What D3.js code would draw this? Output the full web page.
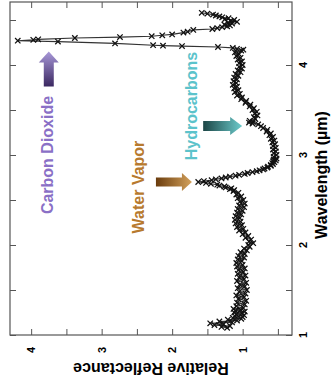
<!DOCTYPE html>
<html>
<head>
<meta charset="utf-8">
<script src="https://cdn.jsdelivr.net/npm/d3@7"></script>
<style>
  html, body { margin: 0; padding: 0; background: #fff; }
  svg { display: block; font-family: "Liberation Sans", Arial, sans-serif; }
</style>
</head>
<body>
<div id="chart"></div>
<script>
// spectrum samples (wavelength in µm)
const wavelength = [
  1.08, 1.09, 1.10, 1.11, 1.12, 1.13, 1.14, 1.15, 1.16, 1.17, 1.18, 1.19, 1.20, 1.21, 1.22, 1.23,
  1.24, 1.25, 1.26, 1.27, 1.28, 1.29, 1.30,
  1.32, 1.34, 1.36, 1.38, 1.40, 1.42, 1.44, 1.46, 1.48, 1.50, 1.52, 1.54, 1.56, 1.58, 1.60, 1.62,
  1.64, 1.66, 1.68, 1.70, 1.72, 1.74, 1.76, 1.78, 1.80, 1.82, 1.84, 1.86, 1.88, 1.90, 1.92, 1.94,
  1.96, 1.98, 2.00, 2.02, 2.04, 2.06, 2.08, 2.10, 2.12, 2.14, 2.16, 2.18, 2.20, 2.22, 2.24, 2.26,
  2.28, 2.30, 2.32, 2.34, 2.36, 2.38, 2.40, 2.42, 2.44, 2.46, 2.48, 2.50, 2.52, 2.54, 2.56, 2.58,
  2.60,
  2.61, 2.62, 2.63, 2.64, 2.65, 2.66, 2.67, 2.68, 2.69, 2.70, 2.71, 2.72, 2.73, 2.74, 2.75, 2.76,
  2.77, 2.78, 2.79, 2.80, 2.81, 2.82, 2.83, 2.84, 2.85, 2.86, 2.87, 2.88, 2.89, 2.90, 2.91, 2.92,
  2.93, 2.94, 2.95, 2.96,
  2.98, 3.00, 3.02, 3.04, 3.06, 3.08, 3.10, 3.12, 3.14, 3.16, 3.18, 3.20, 3.22, 3.24, 3.26, 3.28,
  3.30, 3.32, 3.34, 3.35, 3.36, 3.37, 3.38, 3.40, 3.42, 3.44, 3.46, 3.48, 3.50, 3.52, 3.54, 3.56,
  3.58, 3.60, 3.62, 3.64, 3.66, 3.68, 3.70, 3.72, 3.74, 3.76, 3.78, 3.80, 3.82, 3.84, 3.86, 3.88,
  3.90, 3.92, 3.94, 3.96, 3.98, 4.00, 4.02, 4.04, 4.06, 4.08, 4.10, 4.12, 4.14, 4.16,
  4.17, 4.18, 4.19, 4.20, 4.21, 4.215, 4.22, 4.24, 4.26, 4.27, 4.28, 4.285, 4.30, 4.31, 4.32, 4.33,
  4.34, 4.36, 4.37, 4.39, 4.40, 4.41, 4.42, 4.43, 4.44, 4.45, 4.46, 4.47, 4.48, 4.49, 4.50, 4.51,
  4.52, 4.53, 4.54, 4.55, 4.56, 4.57, 4.58
];
const reflectance = [
  1.22, 1.30, 1.18, 1.40, 1.27, 1.46, 1.15, 1.33, 1.08, 1.21, 1.02, 1.14, 1.00, 1.11, 0.98, 1.09,
  1.01, 1.12, 0.97, 1.10, 1.03, 1.13, 0.99,
  1.09, 0.97, 1.08, 0.95, 1.06, 0.98, 1.09, 0.96, 1.05, 0.94, 1.07, 0.97, 1.04, 0.95, 1.08, 0.98,
  1.05, 0.96, 1.07, 0.99, 1.06, 0.97, 1.08, 1.00, 1.09, 1.01, 1.07, 0.98, 1.06, 0.97, 1.03, 0.94,
  0.98, 0.90, 0.92, 0.85, 0.91, 0.88, 0.96, 0.92, 1.00, 0.96, 1.05, 0.99, 1.08, 1.01, 1.10, 1.03,
  1.11, 1.04, 1.10, 1.02, 1.08, 1.00, 1.07, 0.98, 1.05, 0.97, 1.04, 0.99, 1.07, 1.02, 1.09, 1.06,
  1.13,
  1.12, 1.18, 1.16, 1.24, 1.26, 1.33, 1.36, 1.45, 1.52, 1.63, 1.55, 1.44, 1.38, 1.30, 1.24, 1.18,
  1.10, 1.05, 0.97, 0.93, 0.86, 0.80, 0.76, 0.71, 0.69, 0.65, 0.64, 0.60, 0.60, 0.57, 0.58, 0.55,
  0.57, 0.53, 0.56, 0.52,
  0.56, 0.52, 0.56, 0.53, 0.57, 0.53, 0.57, 0.54, 0.58, 0.55, 0.60, 0.57, 0.62, 0.60, 0.66, 0.65,
  0.71, 0.74, 0.78, 0.86, 0.91, 0.85, 0.90, 0.82, 0.84, 0.79, 0.83, 0.80, 0.86, 0.84, 0.90, 0.89,
  0.96, 0.95, 1.02, 1.01, 1.08, 1.04, 1.11, 1.06, 1.12, 1.08, 1.14, 1.09, 1.13, 1.08, 1.12, 1.06,
  1.10, 1.03, 1.07, 1.01, 1.05, 1.00, 1.05, 1.01, 1.07, 1.03, 1.09, 1.05, 1.11, 1.02,
  0.99, 1.08, 1.14, 1.35, 1.86, 2.13, 2.27, 2.81, 3.62, 4.19, 3.97, 3.90, 3.38, 2.74, 2.29, 2.14,
  2.00, 1.84, 1.78, 1.70, 1.43, 1.36, 1.29, 1.22, 1.18, 1.26, 1.15, 1.21, 1.08, 1.17, 1.12, 1.25,
  1.20, 1.29, 1.33, 1.38, 1.42, 1.50, 1.58
];
const wavelengthTicks = [1, 2, 3, 4];
const wavelengthMinor = [1.5, 2.5, 3.5, 4.5];
const reflectanceTicks = [1, 2, 3, 4];
const reflectanceMinor = [0.5, 1.5, 2.5, 3.5];
const annotations = ["Carbon Dioxide", "Water Vapor", "Hydrocarbons"];

const width = 331, height = 389;
const svg = d3.select("#chart").append("svg")
  .attr("width", width).attr("height", height);
svg.append("rect").attr("width", width).attr("height", height).attr("fill", "#fff");

// rotated plot: wavelength runs up, reflectance runs to the left
const x = d3.scaleLinear().domain([4.3, 0.3]).range([10, 292]);
const y = d3.scaleLinear().domain([1, 4.7]).range([335, 2]);
const frameColor = "#555";

const rTicks = reflectanceTicks.concat(reflectanceMinor);
const wTicks = wavelengthTicks.concat(wavelengthMinor);

const tickAxis = (g, axis) => {
  g.call(axis);
  g.select(".domain").remove();
  g.selectAll("line").attr("stroke", frameColor).attr("stroke-width", 1);
};
svg.append("g").attr("transform", `translate(0,${y(1)})`)
  .call(g => tickAxis(g, d3.axisBottom(x).tickValues(rTicks).tickSize(-6).tickFormat("")));
svg.append("g").attr("transform", `translate(0,${y(4.7)})`)
  .call(g => tickAxis(g, d3.axisTop(x).tickValues(rTicks).tickSize(-6).tickFormat("")));
svg.append("g").attr("transform", `translate(${x(0.3)},0)`)
  .call(g => tickAxis(g, d3.axisRight(y).tickValues(wTicks).tickSize(-6).tickFormat("")));
svg.append("g").attr("transform", `translate(${x(4.3)},0)`)
  .call(g => tickAxis(g, d3.axisLeft(y).tickValues(wTicks).tickSize(-6).tickFormat("")));

svg.append("rect")
  .attr("x", x(4.3)).attr("y", y(4.7))
  .attr("width", x(0.3) - x(4.3)).attr("height", y(1) - y(4.7))
  .attr("fill", "none").attr("stroke", frameColor).attr("stroke-width", 1.2);

// tick labels (rotated with the figure)
svg.selectAll(".rlab").data(reflectanceTicks).join("text")
  .attr("transform", d => `translate(${x(d) + 4},350) rotate(-90)`)
  .attr("text-anchor", "middle").attr("font-size", 11).attr("font-weight", "bold")
  .text(d => d);
svg.selectAll(".wlab").data(wavelengthTicks).join("text")
  .attr("transform", d => `translate(${x(0.3) + 15},${y(d)}) rotate(-90)`)
  .attr("text-anchor", "middle").attr("font-size", 11).attr("font-weight", "bold")
  .text(d => d);

svg.append("text")
  .attr("transform", `translate(151,363) rotate(180)`)
  .attr("text-anchor", "middle").attr("font-size", 16).attr("font-weight", "bold")
  .text("Relative Reflectance");
svg.append("text")
  .attr("transform", `translate(327,175) rotate(-90)`)
  .attr("text-anchor", "middle").attr("font-size", 16).attr("font-weight", "bold")
  .text("Wavelength (\u00b5m)");

// spectrum
const points = wavelength.map((w, i) => ({ w, r: reflectance[i] }));
svg.append("path").datum(points)
  .attr("d", d3.line().x(d => x(d.r)).y(d => y(d.w)))
  .attr("fill", "none").attr("stroke", "#333").attr("stroke-width", 1.1);
svg.selectAll(".mk").data(points).join("path")
  .attr("transform", d => `translate(${x(d.r)},${y(d.w)})`)
  .attr("d", "M-2.7,-2.7L2.7,2.7M-2.7,2.7L2.7,-2.7")
  .attr("stroke", "#111").attr("stroke-width", 1.25).attr("fill", "none");

// annotation arrows with gradients
const defs = svg.append("defs");
const arrows = [
  { label: annotations[0], text: "#8a70c6", dark: "#3a2760", light: "#a898d8",
    base: [3.75, 3.76], angle: -90, len: 35, sw: 5, hw: 10, hl: 11,
    tx: 3.69, tw: 3.0 },
  { label: annotations[1], text: "#b77a2e", dark: "#6a3c0d", light: "#d4a25c",
    base: [2.23, 2.70], angle: 0, len: 36, sw: 4.5, hw: 9, hl: 10,
    tx: 2.40, tw: 2.644 },
  { label: annotations[2], text: "#5cc3cb", dark: "#1c4545", light: "#6ccbcc",
    base: [1.56, 3.322], angle: 0, len: 39, sw: 5, hw: 9, hl: 12,
    tx: 1.647, tw: 3.544 }
];
arrows.forEach((a, i) => {
  const grad = defs.append("linearGradient").attr("id", "g" + i)
    .attr("x1", 0).attr("x2", 1).attr("y1", 0).attr("y2", 0);
  grad.append("stop").attr("offset", 0).attr("stop-color", a.dark);
  grad.append("stop").attr("offset", 1).attr("stop-color", a.light);
  const L = a.len, h = L - a.hl;
  const p = `M0,${-a.sw}L${h},${-a.sw}L${h},${-a.hw}L${L},0L${h},${a.hw}L${h},${a.sw}L0,${a.sw}Z`;
  svg.append("path")
    .attr("transform", `translate(${x(a.base[0])},${y(a.base[1])}) rotate(${a.angle})`)
    .attr("d", p).attr("fill", `url(#g${i})`);
  svg.append("text")
    .attr("transform", `translate(${x(a.tx)},${y(a.tw)}) rotate(-90)`)
    .attr("text-anchor", "middle").attr("font-size", 16).attr("font-weight", "bold")
    .attr("fill", a.text).text(a.label);
});
</script>
</body>
</html>
